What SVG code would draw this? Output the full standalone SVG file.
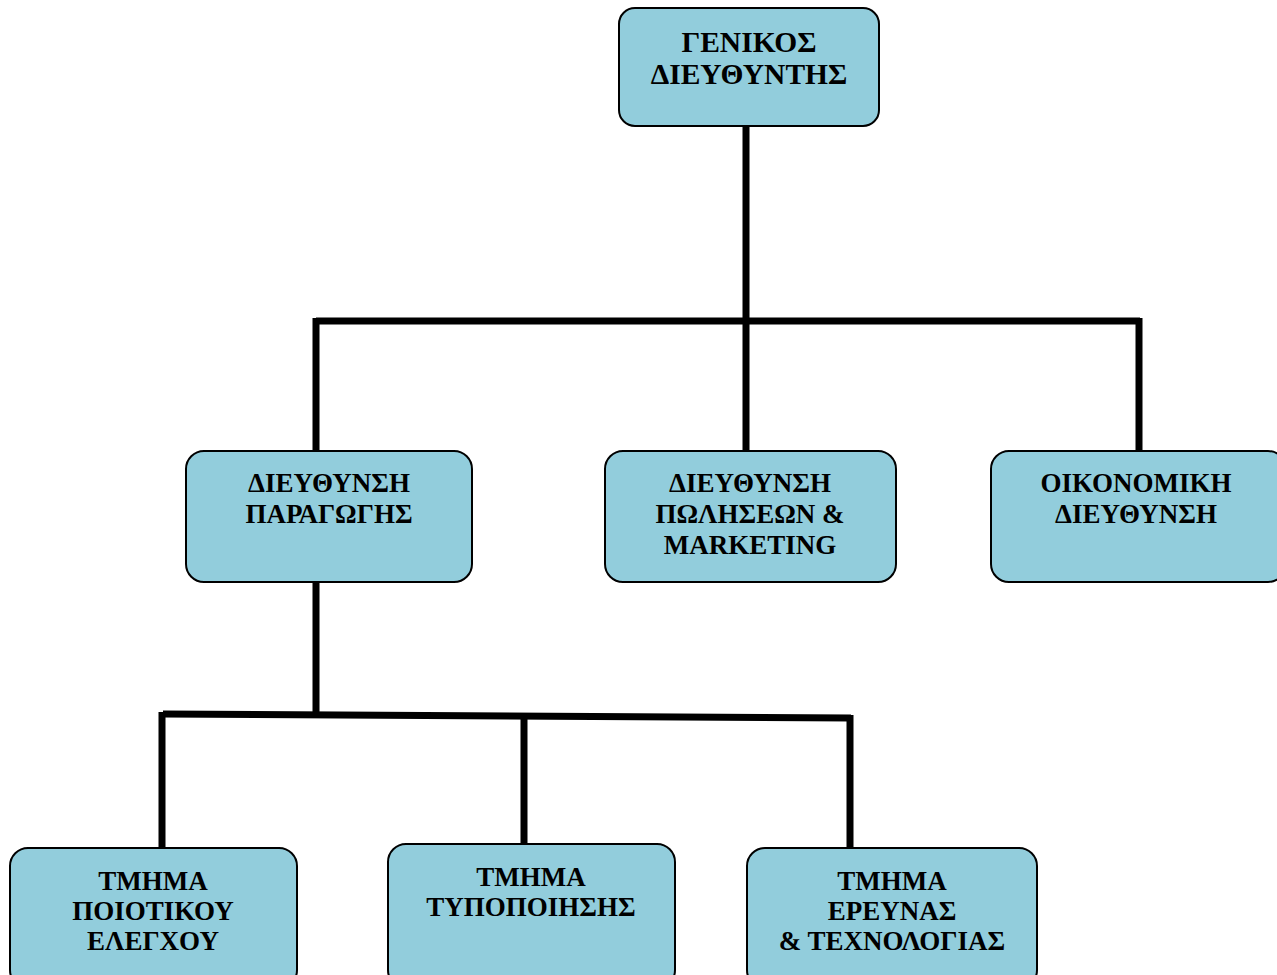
<svg xmlns="http://www.w3.org/2000/svg" width="1277" height="975" viewBox="0 0 1277 975">
<style>
.box{fill:#92CDDC;stroke:#000;stroke-width:2}
.t{font-family:"Liberation Serif","Times New Roman",serif;font-weight:bold;font-size:27px;fill:#000;text-anchor:middle}
.big{font-size:29.5px}
.c{stroke:#000;stroke-width:7;fill:none;stroke-linecap:butt}
</style>
<rect width="1277" height="975" fill="#fff"/>
<g id="connectors">
<path class="c" d="M746 126V451"/>
<path class="c" d="M316 321H1140"/>
<path class="c" d="M316 318V451"/>
<path class="c" d="M1139 318V451"/>
<path class="c" d="M316 582V714"/>
<path class="c" d="M163 714L851 718"/>
<path class="c" d="M162 712V848"/>
<path class="c" d="M524 714V844"/>
<path class="c" d="M850 715V848"/>
</g>
<g id="n1"><rect class="box" x="619" y="8" width="260" height="118" rx="16"/>
<text class="t big" x="749" y="52">ΓΕΝΙΚΟΣ</text><text class="t big" x="749" y="84">ΔΙΕΥΘΥΝΤΗΣ</text></g>
<g id="n2"><rect class="box" x="186" y="451" width="286" height="131" rx="18"/>
<text class="t" x="329" y="492">ΔΙΕΥΘΥΝΣΗ</text><text class="t" x="329" y="523">ΠΑΡΑΓΩΓΗΣ</text></g>
<g id="n3"><rect class="box" x="605" y="451" width="291" height="131" rx="18"/>
<text class="t" x="750" y="492">ΔΙΕΥΘΥΝΣΗ</text><text class="t" x="750" y="523">ΠΩΛΗΣΕΩΝ &amp;</text><text class="t" x="750" y="554">MARKETING</text></g>
<g id="n4"><rect class="box" x="991" y="451" width="295" height="131" rx="18"/>
<text class="t" x="1136" y="492">ΟΙΚΟΝΟΜΙΚΗ</text><text class="t" x="1136" y="523">ΔΙΕΥΘΥΝΣΗ</text></g>
<g id="n5"><rect class="box" x="10" y="848" width="287" height="140" rx="18"/>
<text class="t" x="153" y="890">ΤΜΗΜΑ</text><text class="t" x="153" y="920">ΠΟΙΟΤΙΚΟΥ</text><text class="t" x="153" y="950">ΕΛΕΓΧΟΥ</text></g>
<g id="n6"><rect class="box" x="388" y="844" width="287" height="144" rx="18"/>
<text class="t" x="531" y="886">ΤΜΗΜΑ</text><text class="t" x="531" y="916">ΤΥΠΟΠΟΙΗΣΗΣ</text></g>
<g id="n7"><rect class="box" x="747" y="848" width="290" height="140" rx="18"/>
<text class="t" x="892" y="890">ΤΜΗΜΑ</text><text class="t" x="892" y="920">ΕΡΕΥΝΑΣ</text><text class="t" x="892" y="950">&amp; ΤΕΧΝΟΛΟΓΙΑΣ</text></g>
</svg>
